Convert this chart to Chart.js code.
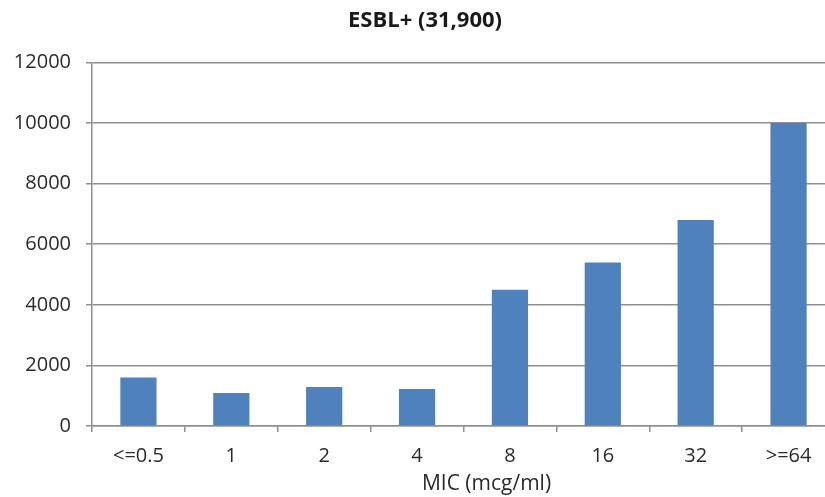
<!DOCTYPE html>
<html>
<head>
<meta charset="utf-8">
<script src="https://cdn.jsdelivr.net/npm/chart.js@4"></script>
<style>
  html, body { margin: 0; padding: 0; background: #ffffff; overflow: hidden; }
  #wrap { position: relative; width: 840px; height: 497px; }
</style>
</head>
<body>
<div id="wrap"><canvas id="chart"></canvas></div>
<script>
// MIC distribution for ESBL+ isolates
const categories = ['<=0.5', '1', '2', '4', '8', '16', '32', '>=64'];
const isolateCounts = [1600, 1090, 1290, 1220, 4500, 5400, 6800, 10000];
const yTicks = [0, 2000, 4000, 6000, 8000, 10000, 12000];
const chartTitle = 'ESBL+ (31,900)';
const xAxisTitle = 'MIC (mcg/ml)';

const FONT = '"Open Sans", Lato, "Liberation Sans", sans-serif';
const TEXT = '#2b2b2b';
const GRID = '#8f8f8f';

// Draws the x-axis title below the category labels, a little right of centre
const axisTitlePlugin = {
  id: 'axisTitle',
  afterDraw(chart) {
    const area = chart.chartArea;
    const ctx = chart.ctx;
    ctx.save();
    ctx.font = '21px ' + FONT;
    ctx.fillStyle = TEXT;
    ctx.textAlign = 'center';
    ctx.textBaseline = 'middle';
    const cx = (area.left + area.right) / 2 + 23;
    ctx.fillText(xAxisTitle, cx, area.bottom + 58);
    ctx.restore();
  }
};

new Chart(document.getElementById('chart'), {
  type: 'bar',
  data: {
    labels: categories,
    datasets: [{
      data: isolateCounts,
      backgroundColor: '#4F81BD',
      borderWidth: 0,
      barPercentage: 0.39,
      categoryPercentage: 1.0
    }]
  },
  options: {
    responsive: true,
    maintainAspectRatio: false,
    animation: false,
    layout: { padding: { left: 15, right: 5, top: 0, bottom: 17 } },
    plugins: {
      legend: { display: false },
      tooltip: { enabled: false },
      title: {
        display: true,
        text: chartTitle,
        color: '#1a1a1a',
        font: { family: FONT, size: 22, weight: 'bold' },
        padding: { top: 8, bottom: 28 }
      }
    },
    scales: {
      x: {
        grid: {
          display: true,
          drawOnChartArea: false,
          drawTicks: true,
          tickLength: 6,
          color: GRID,
          lineWidth: 1.5,
          offset: true
        },
        border: { display: true, color: GRID, width: 1.5 },
        ticks: {
          color: TEXT,
          font: { family: FONT, size: 20 },
          padding: 12,
          maxRotation: 0,
          autoSkip: false
        }
      },
      y: {
        min: 0,
        max: 12000,
        afterBuildTicks(scale) {
          scale.ticks = yTicks.map(v => ({ value: v }));
        },
        afterFit(scale) { scale.width = 77; },
        grid: {
          color: GRID,
          lineWidth: 1.5,
          tickLength: 6
        },
        border: { display: true, color: GRID, width: 1.5 },
        ticks: {
          color: TEXT,
          font: { family: FONT, size: 20 },
          padding: 15,
          callback: v => String(v)
        }
      }
    }
  },
  plugins: [axisTitlePlugin]
});
</script>
</body>
</html>
